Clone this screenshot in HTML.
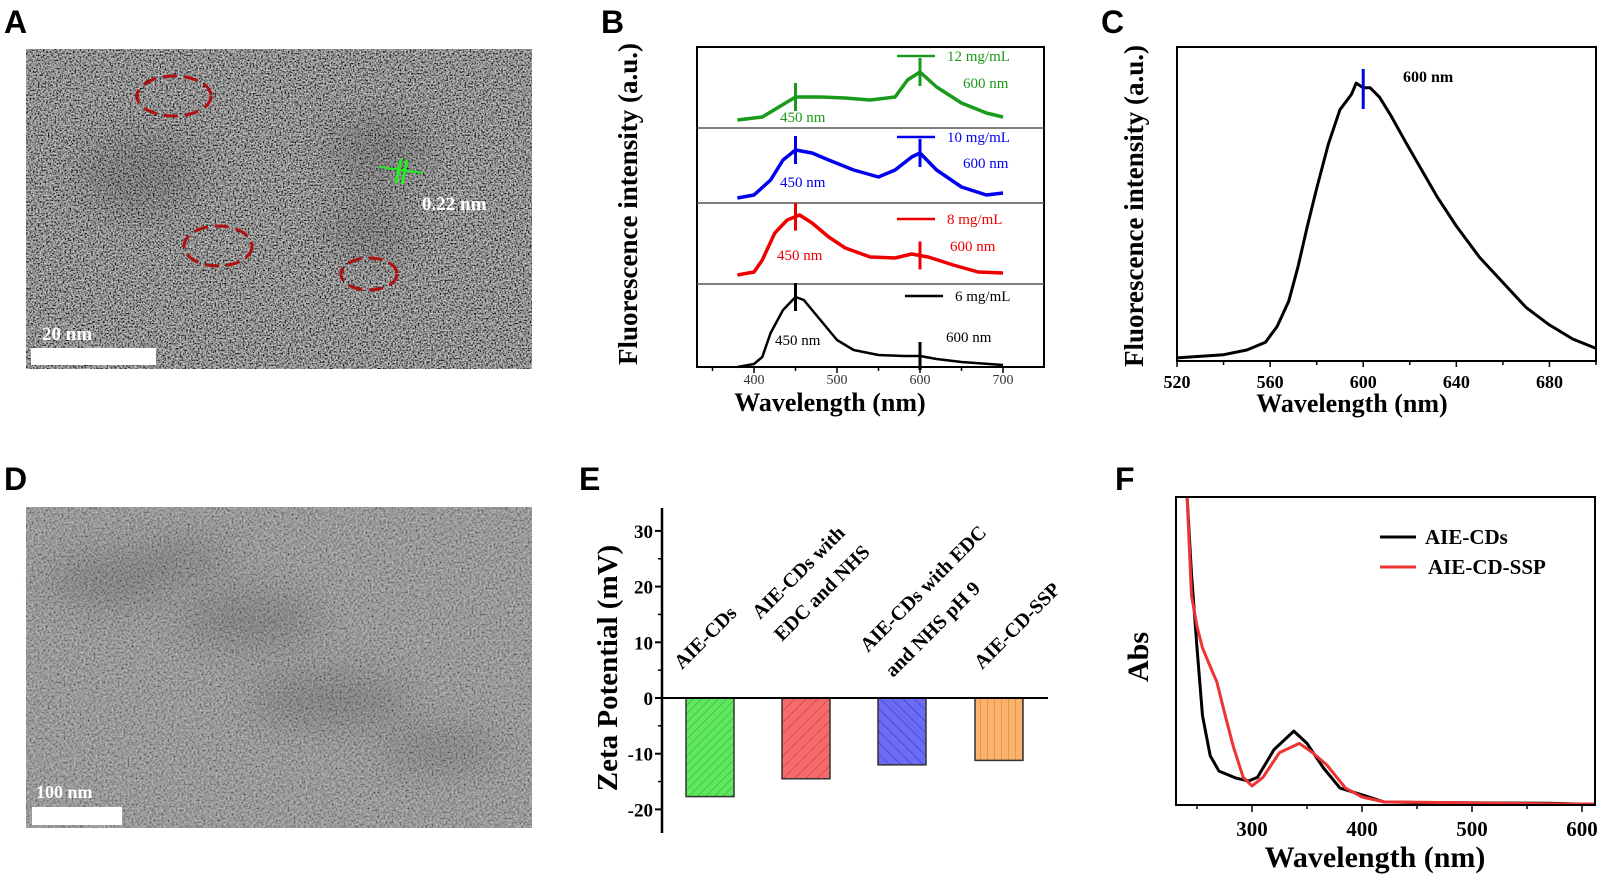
<!DOCTYPE html>
<html><head><meta charset="utf-8"><style>
html,body{margin:0;padding:0;background:#fff;}
svg{display:block;}
text{font-family:"Liberation Serif",serif;}
.lbl{font-family:"Liberation Sans",sans-serif;font-weight:bold;font-size:32px;}
</style></head><body>
<svg id="fig" width="1622" height="880" viewBox="0 0 1622 880" xmlns="http://www.w3.org/2000/svg">
<defs>
<filter id="noise" x="0" y="0" width="100%" height="100%">
<feTurbulence type="fractalNoise" baseFrequency="0.6" numOctaves="2" seed="5" result="n"/>
<feColorMatrix in="n" type="matrix" values="1.8 0 0 0 -0.55  1.8 0 0 0 -0.55  1.8 0 0 0 -0.55  0 0 0 0 1"/>
</filter>
<filter id="noiseD" x="0" y="0" width="100%" height="100%">
<feTurbulence type="fractalNoise" baseFrequency="0.5" numOctaves="2" seed="9" result="n"/>
<feColorMatrix in="n" type="matrix" values="1.3 0 0 0 -0.2  1.3 0 0 0 -0.2  1.3 0 0 0 -0.2  0 0 0 0 1"/>
</filter>
<filter id="blur8"><feGaussianBlur stdDeviation="18"/></filter>
<pattern id="hatchG" width="6" height="6" patternUnits="userSpaceOnUse" patternTransform="rotate(45)"><rect width="6" height="6" fill="#5fe85f"/><line x1="0" y1="0" x2="0" y2="6" stroke="#2f9f2f" stroke-width="1"/></pattern>
<pattern id="hatchR" width="8" height="8" patternUnits="userSpaceOnUse" patternTransform="rotate(45)"><rect width="8" height="8" fill="#f56a6a"/><line x1="0" y1="0" x2="0" y2="8" stroke="#b33" stroke-width="1"/></pattern>
<pattern id="hatchB" width="8" height="8" patternUnits="userSpaceOnUse" patternTransform="rotate(-45)"><rect width="8" height="8" fill="#6b6bf5"/><line x1="0" y1="0" x2="0" y2="8" stroke="#3333aa" stroke-width="1"/></pattern>
<pattern id="hatchO" width="7" height="7" patternUnits="userSpaceOnUse"><rect width="7" height="7" fill="#fbb26a"/><line x1="0" y1="0" x2="0" y2="7" stroke="#c77d35" stroke-width="1"/></pattern>
</defs>

<!-- Panel A -->
<text class="lbl" x="4" y="33">A</text>
<g>
<rect x="26" y="49" width="506" height="320" fill="#5e5e5e"/>
<rect x="26" y="49" width="506" height="320" filter="url(#noise)" opacity="0.8"/>
<g filter="url(#blur8)" opacity="0.2"><ellipse cx="140" cy="175" rx="60" ry="40" fill="#333"/><ellipse cx="380" cy="150" rx="50" ry="35" fill="#333"/><ellipse cx="370" cy="230" rx="40" ry="30" fill="#333"/></g>
</g>
<g fill="none" stroke="#b01010" stroke-width="3" stroke-dasharray="14 7">
<ellipse cx="174" cy="96" rx="37" ry="20"/>
<ellipse cx="218" cy="246" rx="34" ry="20"/>
<ellipse cx="369" cy="274" rx="28" ry="16"/>
</g>
<g stroke="#22ee22"><line x1="379" y1="167" x2="423" y2="173" stroke-width="2"/><line x1="396" y1="183" x2="401" y2="159" stroke-width="3"/><line x1="402" y1="184" x2="407" y2="160" stroke-width="3"/></g>
<text x="422" y="210" fill="#fff" font-size="19" font-weight="bold">0.22 nm</text>
<text x="42" y="340" fill="#fff" font-size="19" font-weight="bold">20 nm</text>
<rect x="31" y="348" width="125" height="17" fill="#fff"/>

<!-- Panel D -->
<text class="lbl" x="4" y="490">D</text>
<g>
<rect x="26" y="507" width="506" height="321" fill="#747474"/>
<rect x="26" y="507" width="506" height="321" filter="url(#noiseD)" opacity="0.6"/>
<g filter="url(#blur8)" opacity="0.18" fill="#222"><ellipse cx="110" cy="580" rx="60" ry="25"/><ellipse cx="250" cy="620" rx="70" ry="25"/><ellipse cx="330" cy="700" rx="80" ry="25"/><ellipse cx="440" cy="750" rx="60" ry="18"/><ellipse cx="180" cy="560" rx="50" ry="18"/></g>
</g>
<text x="36" y="798" fill="#fff" font-size="18" font-weight="bold">100 nm</text>
<rect x="32" y="807" width="90" height="18" fill="#fff"/>

<!-- Panel labels -->
<text class="lbl" x="601" y="33">B</text>
<text class="lbl" x="1101" y="33">C</text>
<text class="lbl" x="579" y="490">E</text>
<text class="lbl" x="1115" y="490">F</text>

<g id="gB"></g><g id="gC"></g><g id="gE"></g><g id="gF"></g>
</svg>
<script>
// ---------- Panel B data ----------
const bNm6 = [380,400,410,420,435,450,460,480,500,520,550,580,600,620,650,700];
const bVal6 = [0,3,10,34,57,70,67,47,27,17,12,11,11,8,5,2];
const bNm8 = [380,400,410,425,440,455,470,490,510,540,570,590,610,640,670,700];
const bVal8 = [9,12,24,51,64,69,61,47,36,27,26,30,27,19,12,11];
const bNm10 = [380,400,420,435,450,470,490,520,550,570,590,600,620,650,680,700];
const bVal10 = [5,8,23,43,53,50,43,33,26,33,46,50,33,16,8,10];
const bNm12 = [380,410,430,450,480,510,540,570,585,600,620,650,680,700];
const bVal12 = [8,11,21,31,31,30,28,31,48,56,41,25,15,11];
const bConc = ["12 mg/mL","10 mg/mL","8 mg/mL","6 mg/mL"];
const bTicks = [400,500,600,700];
const bMarks = [450,600];
// ---------- Panel C data ----------
const cNm = [520,540,550,558,563,568,572,576,580,585,590,595,597,600,603,607,612,618,625,632,640,650,660,670,680,690,700];
const cVal = [0.01,0.02,0.035,0.06,0.11,0.19,0.30,0.43,0.55,0.69,0.80,0.85,0.885,0.87,0.87,0.84,0.78,0.70,0.61,0.52,0.43,0.33,0.25,0.17,0.115,0.07,0.04];
const cTicks = [520,560,600,640,680];
// ---------- Panel E data ----------
const eCats = [["AIE-CDs"],["AIE-CDs with","EDC and NHS"],["AIE-CDs with EDC","and NHS pH 9"],["AIE-CD-SSP"]];
const eVals = [-17.7,-14.5,-12.0,-11.2];
const eTicks = [30,20,10,0,-10,-20];
// ---------- Panel F data ----------
const fNmK = [241,245,250,255,262,270,285,297,305,320,338,350,365,380,400,420,450,570,600,611];
const fValK = [1.0,0.75,0.51,0.29,0.16,0.11,0.088,0.078,0.09,0.18,0.24,0.2,0.12,0.055,0.033,0.01,0.008,0.006,0.003,0.003];
const fNmR = [241,245,250,255,262,268,275,283,292,300,310,325,343,355,368,385,400,420,600,611];
const fValR = [1.0,0.68,0.58,0.51,0.45,0.40,0.30,0.19,0.09,0.062,0.09,0.17,0.2,0.17,0.13,0.055,0.026,0.01,0.003,0.003];
const fTicks = [300,400,500,600];
const fSeries = ["AIE-CDs","AIE-CD-SSP"];

const NS="http://www.w3.org/2000/svg";
function mk(parent,tag,attrs,txt){const e=document.createElementNS(NS,tag);for(const k in attrs)e.setAttribute(k,attrs[k]);if(txt!==undefined)e.textContent=txt;parent.appendChild(e);return e;}
function path(xs,ys,fx,fy){return xs.map((x,i)=>(i?'L':'M')+fx(x).toFixed(1)+' '+fy(ys[i]).toFixed(1)).join(' ');}
function interp(xs,ys,x){for(let i=1;i<xs.length;i++){if(x<=xs[i]){const t=(x-xs[i-1])/(xs[i]-xs[i-1]);return ys[i-1]+t*(ys[i]-ys[i-1]);}}return ys[ys.length-1];}

// ===== Panel B =====
(function(){
const g=document.getElementById('gB');
const bx=nm=>754+(nm-400)*0.83;
const L=697,R=1044,T=47,Bt=367;
const bounds=[[47,128],[128,203],[203,284],[284,367]];
const cols=["#1a9a1a","#0000ee","#ee0000","#000"];
const nms=[bNm12,bNm10,bNm8,bNm6], vals=[bVal12,bVal10,bVal8,bVal6];
const frame=mk(g,'rect',{x:L,y:T,width:R-L,height:Bt-T,fill:'none',stroke:'#000','stroke-width':2});


for(let i=1;i<4;i++){const d=mk(g,'line',{x1:L,x2:R,y1:bounds[i][0],y2:bounds[i][0],stroke:'#555','stroke-width':1.5});

}
const legY=[56,137,219,296], legX=[897,897,897,905];
const lblY600=[83,163,246,337], lblY450=[117,182,255,340];
for(let i=0;i<4;i++){
  const base=bounds[i][1];
  const fy=v=>base-v;
  const p=mk(g,'path',{d:path(nms[i],vals[i],bx,fy),fill:'none',stroke:cols[i],'stroke-width':i==3?2.5:3.5,'stroke-linejoin':'round'});
  
  
  bMarks.forEach(m=>{const yv=fy(interp(nms[i],vals[i],m));
    const t=mk(g,'line',{x1:bx(m),x2:bx(m),y1:yv-14,y2:yv+14,stroke:cols[i],'stroke-width':3});
    
    });
  const ll=mk(g,'line',{x1:legX[i],x2:legX[i]+38,y1:legY[i],y2:legY[i],stroke:cols[i],'stroke-width':2.5});
  
  
  const lt=mk(g,'text',{x:legX[i]+50,y:legY[i]+5,'font-size':15,fill:cols[i]},bConc[i]);
  
  
  const a=mk(g,'text',{x:i==3?946:(i==2?950:963),y:lblY600[i]+5,'font-size':15,fill:cols[i]},'600 nm');
  
  
  const b=mk(g,'text',{x:i==3?775:(i==2?777:780),y:lblY450[i]+5,'font-size':15,fill:cols[i]},'450 nm');
  
  
}
[350,450,550,650].forEach(v=>{const t=mk(g,'line',{x1:bx(v),x2:bx(v),y1:Bt,y2:Bt+4,stroke:'#000','stroke-width':1.5});});
bTicks.forEach(v=>{const t=mk(g,'line',{x1:bx(v),x2:bx(v),y1:Bt,y2:Bt+6,stroke:'#000','stroke-width':1.5});
const l=mk(g,'text',{x:bx(v),y:Bt+17,'font-size':14,'text-anchor':'middle',fill:'#333'},v);});
const xt=mk(g,'text',{x:830,y:411,'font-size':26,'font-weight':'bold','text-anchor':'middle'},'Wavelength (nm)');

const yt=mk(g,'text',{x:0,y:0,'font-size':27,'font-weight':'bold','text-anchor':'middle',transform:'translate(637,204) rotate(-90)'},'Fluorescence intensity (a.u.)');

})();

// ===== Panel C =====
(function(){
const g=document.getElementById('gC');
const L=1177,R=1596,T=47,Bt=361;
const cx=nm=>L+(nm-520)*(R-L)/180;
const cy=v=>Bt-v*(Bt-T);
const fr=mk(g,'rect',{x:L,y:T,width:R-L,height:Bt-T,fill:'none',stroke:'#000','stroke-width':2});

const p=mk(g,'path',{d:path(cNm,cVal,cx,cy),fill:'none',stroke:'#000','stroke-width':3,'stroke-linejoin':'round'});

const m=mk(g,'line',{x1:cx(600),x2:cx(600),y1:69,y2:109,stroke:'#0000ee','stroke-width':3});

const pl=mk(g,'text',{x:1403,y:82,'font-size':16,'font-weight':'bold'},'600 nm');

[540,580,620,660,700].forEach(v=>{const t=mk(g,'line',{x1:cx(v),x2:cx(v),y1:Bt,y2:Bt+4,stroke:'#000','stroke-width':1.5});});
cTicks.forEach(v=>{const t=mk(g,'line',{x1:cx(v),x2:cx(v),y1:Bt,y2:Bt+6,stroke:'#000','stroke-width':1.5});
const l=mk(g,'text',{x:cx(v),y:Bt+27,'font-size':18,'font-weight':'bold','text-anchor':'middle'},v);});
const xt=mk(g,'text',{x:1352,y:412,'font-size':26,'font-weight':'bold','text-anchor':'middle'},'Wavelength (nm)');

const yt=mk(g,'text',{x:0,y:0,'font-size':27,'font-weight':'bold','text-anchor':'middle',transform:'translate(1143,206) rotate(-90)'},'Fluorescence intensity (a.u.)');

})();

// ===== Panel E =====
(function(){
const g=document.getElementById('gE');
const ax=662;
const ey=v=>698-v*5.57;
const centers=[710,806,902,999];
const fills=['url(#hatchG)','url(#hatchR)','url(#hatchB)','url(#hatchO)'];
eVals.forEach((v,i)=>{const r=mk(g,'rect',{x:centers[i]-24,y:ey(0),width:48,height:ey(v)-ey(0),fill:fills[i],stroke:'#333','stroke-width':1.5});
});
const axl=mk(g,'line',{x1:ax,x2:ax,y1:508,y2:833,stroke:'#000','stroke-width':2.5});

const zl=mk(g,'line',{x1:ax,x2:1048,y1:ey(0),y2:ey(0),stroke:'#000','stroke-width':2});

[25,15,5,-5,-15].forEach(v=>{const t=mk(g,'line',{x1:ax-4,x2:ax,y1:ey(v),y2:ey(v),stroke:'#000','stroke-width':1.5});});
eTicks.forEach(v=>{const t=mk(g,'line',{x1:ax-7,x2:ax,y1:ey(v),y2:ey(v),stroke:'#000','stroke-width':2});
const l=mk(g,'text',{x:ax-9,y:ey(v)+7,'font-size':19,'font-weight':'bold','text-anchor':'end'},v);});
const starts=[[[682,670]],[[760,620],[782,642]],[[868,653],[893,678]],[[982,670]]];
eCats.forEach((lines,i)=>{lines.forEach((s,j)=>{const p=starts[i][j];
const t=mk(g,'text',{x:0,y:0,'font-size':20,'font-weight':'bold',transform:'translate('+p[0]+','+p[1]+') rotate(-45)'},s);
});});
const yt=mk(g,'text',{x:0,y:0,'font-size':29,'font-weight':'bold','text-anchor':'middle',transform:'translate(617,668) rotate(-90)'},'Zeta Potential (mV)');

})();

// ===== Panel F =====
(function(){
const g=document.getElementById('gF');
const L=1176,R=1595,T=497,Bt=805;
const fx=nm=>1252+(nm-300)*1.1;
const fy=v=>Bt-v*(Bt-T);
const cp=mk(g,'clipPath',{id:'clipF'});mk(cp,'rect',{x:L,y:T,width:R-L,height:Bt-T});
const pk=mk(g,'path',{d:path(fNmK,fValK,fx,fy),fill:'none',stroke:'#000','stroke-width':3,'clip-path':'url(#clipF)','stroke-linejoin':'round'});

const pr=mk(g,'path',{d:path(fNmR,fValR,fx,fy),fill:'none',stroke:'#ee3333','stroke-width':3,'clip-path':'url(#clipF)','stroke-linejoin':'round'});

const fr=mk(g,'rect',{x:L,y:T,width:R-L,height:Bt-T,fill:'none',stroke:'#000','stroke-width':2});

[250,350,450,550].forEach(v=>{const t=mk(g,'line',{x1:fx(v),x2:fx(v),y1:Bt,y2:Bt+4,stroke:'#000','stroke-width':1.5});});
fTicks.forEach(v=>{const t=mk(g,'line',{x1:fx(v),x2:fx(v),y1:Bt,y2:Bt+7,stroke:'#000','stroke-width':1.5});
const l=mk(g,'text',{x:fx(v),y:Bt+31,'font-size':21,'font-weight':'bold','text-anchor':'middle'},v);});
const lc=['#000','#ee3333'];
fSeries.forEach((s,i)=>{const y=537+i*30;
const l=mk(g,'line',{x1:1380,x2:1416,y1:y,y2:y,stroke:lc[i],'stroke-width':3});
const t=mk(g,'text',{x:1425+i*3,y:y+7,'font-size':21,'font-weight':'bold'},s);});
const xt=mk(g,'text',{x:1375,y:867,'font-size':30,'font-weight':'bold','text-anchor':'middle'},'Wavelength (nm)');

const yt=mk(g,'text',{x:0,y:0,'font-size':30,'font-weight':'bold','text-anchor':'middle',transform:'translate(1148,657) rotate(-90)'},'Abs');

})();
</script>
</body></html>
